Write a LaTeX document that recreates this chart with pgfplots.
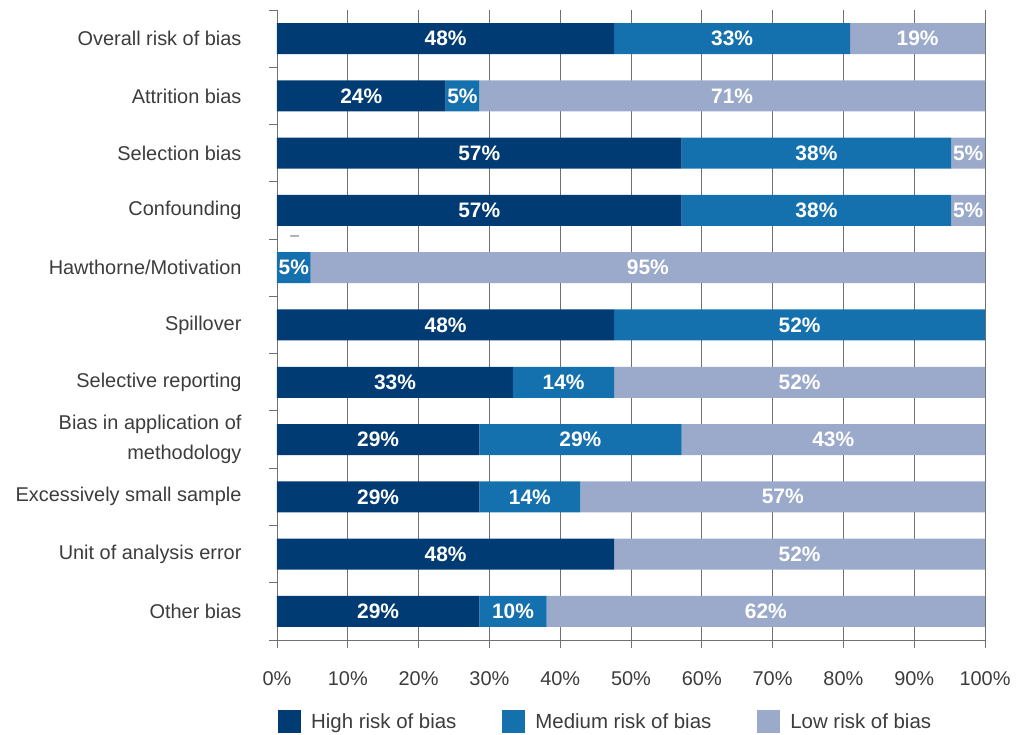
\documentclass[border=0pt]{standalone}
\usepackage{pgfplots}
\pgfplotsset{compat=1.18}
\usepackage{pgfplotstable}
\usepackage{fontspec}
\setmainfont{Liberation Sans}
\definecolor{cHigh}{HTML}{003B73}
\definecolor{cMed}{HTML}{1571AE}
\definecolor{cLow}{HTML}{9BAACB}
\definecolor{txt}{HTML}{3C3C3C}
\definecolor{gridc}{HTML}{707070}

\pgfplotstableread{
cat high med low
10 47.62 33.33 19.05
9 23.81 4.76 71.43
8 57.14 38.10 4.76
7 57.14 38.10 4.76
6 0 4.76 95.24
5 47.62 52.38 0
4 33.33 14.29 52.38
3 28.57 28.57 42.86
2 28.57 14.29 57.14
1 47.62 0 52.38
0 28.57 9.52 61.90
}\datatable

\pgfplotsset{
  frame/.style={at={(0,0)}, anchor=south west,
    scale only axis, width=708bp, height=630bp,
    xmin=0, xmax=100, ymin=-0.5, ymax=10.5},
  barlabel/.style={draw=none, mark=none, point meta=explicit,
    nodes near coords={\pgfmathfloatifflags{\pgfplotspointmeta}{0}{}{\pgfmathprintnumber[fixed,precision=0,assume math mode=true]{\pgfplotspointmeta}\%}},
    nodes near coords align={center},
    every node near coord/.append style={anchor=center, font=\bfseries\fontsize{21}{21}\selectfont, text=white}},
}

\begin{document}
\begin{tikzpicture}
\useasboundingbox (-277bp,-95bp) rectangle (742bp,640bp);
\begin{axis}[
  frame,
  xbar stacked, bar width=31bp,
  axis x line*=bottom, axis y line*=left,
  axis line style={gridc, line width=0.9bp},
  xtick={0,10,...,100},
  xticklabels={0\%,10\%,20\%,30\%,40\%,50\%,60\%,70\%,80\%,90\%,100\%},
  xmajorgrids, grid style={gridc, line width=0.9bp},
  tick align=outside, major tick length=8bp,
  xtick style={gridc, line width=0.9bp},
  xticklabel style={font=\fontsize{20}{24}\selectfont, text=txt, yshift=-20bp},
  ytick={0,...,10},
  yticklabels={Other bias, Unit of analysis error, Excessively small sample, {Bias in application of\\methodology}, Selective reporting, Spillover, Hawthorne/Motivation, Confounding, Selection bias, Attrition bias, Overall risk of bias},
  ytick style={draw=none},
  yticklabel style={font=\fontsize{20}{30}\selectfont, text=txt, align=right, xshift=-24bp},
  extra y ticks={-0.5,0.5,...,10.5},
  extra y tick labels={},
  extra y tick style={ytick style={draw=gridc, line width=0.9bp}},
  legend style={at={(0,0)}, anchor=north west, xshift=-2bp, yshift=-68bp, draw=none, fill=none,
    legend columns=3, font=\fontsize{20.5}{24}\selectfont, text=txt,
    /tikz/every odd column/.append style={column sep=8bp},
    /tikz/every even column/.append style={column sep=44bp}},
  legend image code/.code={\fill[#1] (0bp,-11.5bp) rectangle (23bp,11.5bp);},
]
\addplot[fill=cHigh, draw=none] table[x=high, y=cat] {\datatable};
\addplot[fill=cMed, draw=none] table[x=med, y=cat] {\datatable};
\addplot[fill=cLow, draw=none] table[x=low, y=cat] {\datatable};
\legend{High risk of bias, Medium risk of bias, Low risk of bias}
\node[text=gridc, font=\fontsize{16}{16}\selectfont] at (axis cs:2.5,6.52) {–};
\end{axis}
\begin{axis}[frame, hide axis]
\addplot[barlabel] table[x expr={\thisrow{high}/2}, y=cat, meta=high] {\datatable};
\addplot[barlabel] table[x expr={\thisrow{high}+\thisrow{med}/2}, y=cat, meta=med] {\datatable};
\addplot[barlabel] table[x expr={\thisrow{high}+\thisrow{med}+\thisrow{low}/2}, y=cat, meta=low] {\datatable};
\end{axis}
\end{tikzpicture}
\end{document}
